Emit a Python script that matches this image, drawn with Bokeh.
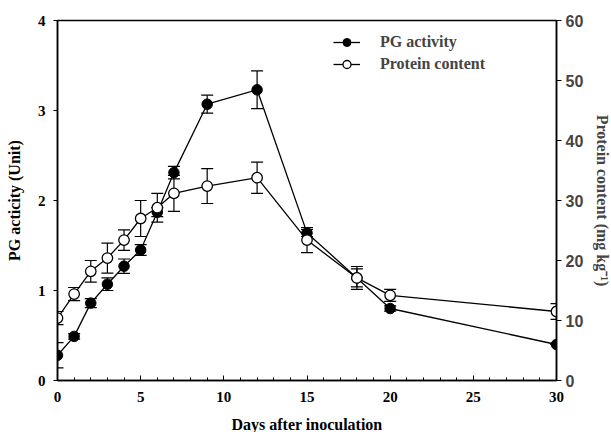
from bokeh.plotting import figure
from bokeh.models import (ColumnDataSource, Range1d, LinearAxis, Whisker, TeeHead,
                          Legend, LegendItem, FixedTicker)
from bokeh.embed import file_html
from bokeh.resources import INLINE

days = [0, 1, 2, 3, 4, 5, 6, 7, 9, 12, 15, 18, 20, 30]
pg_activity = [0.28, 0.49, 0.86, 1.07, 1.27, 1.45, 1.87, 2.31, 3.07, 3.23, 1.64, 1.14, 0.80, 0.40]
pg_err = [0.14, 0.03, 0.05, 0.07, 0.08, 0.06, 0.05, 0.07, 0.10, 0.21, 0.04, 0.10, 0.03, 0.0]
protein = [10.4, 14.4, 18.2, 20.4, 23.4, 27.0, 28.8, 31.2, 32.4, 33.8, 23.4, 17.1, 14.2, 11.5]
protein_err = [1.1, 1.1, 1.8, 2.5, 1.7, 3.0, 2.4, 3.0, 2.9, 2.6, 2.1, 1.9, 1.0, 1.3]

x_ticks = [0, 5, 10, 15, 20, 25, 30]
left_ticks = [0, 1, 2, 3, 4]
right_ticks = [0, 10, 20, 30, 40, 50, 60]

SERIF = "Liberation Serif"
SANS = "Liberation Sans"

p = figure(width=611, height=432, output_backend="svg", toolbar_location=None,
           x_range=Range1d(0, 30), y_range=Range1d(0, 4),
           frame_width=499, frame_height=360,
           min_border_left=57, min_border_right=55, min_border_top=20, min_border_bottom=52)
p.extra_y_ranges = {"prot": Range1d(0, 60)}
p.grid.visible = False
p.outline_line_color = "black"
p.outline_line_width = 1.5
p.background_fill_color = "white"
p.border_fill_color = "white"

src1 = ColumnDataSource(dict(x=days, y=pg_activity,
                             lo=[a - b for a, b in zip(pg_activity, pg_err)],
                             hi=[a + b for a, b in zip(pg_activity, pg_err)]))
src2 = ColumnDataSource(dict(x=days, y=protein,
                             lo=[a - b for a, b in zip(protein, protein_err)],
                             hi=[a + b for a, b in zip(protein, protein_err)]))

w1 = Whisker(source=src1, base="x", lower="lo", upper="hi", line_color="black", line_width=1.2,
             upper_head=TeeHead(size=12, line_color="black", line_width=1.2),
             lower_head=TeeHead(size=12, line_color="black", line_width=1.2))
w2 = Whisker(source=src2, base="x", lower="lo", upper="hi", line_color="black", line_width=1.2,
             y_range_name="prot",
             upper_head=TeeHead(size=12, line_color="black", line_width=1.2),
             lower_head=TeeHead(size=12, line_color="black", line_width=1.2))
p.add_layout(w1)
p.add_layout(w2)

l1 = p.line("x", "y", source=src1, line_color="black", line_width=1.3)
c1 = p.scatter("x", "y", source=src1, size=10.5, marker="circle", fill_color="black", line_color="black")
l2 = p.line("x", "y", source=src2, line_color="black", line_width=1.3, y_range_name="prot")
c2 = p.scatter("x", "y", source=src2, size=10.5, marker="circle", fill_color="white", line_color="black",
               line_width=1.3, y_range_name="prot")

# axes
p.xaxis.ticker = FixedTicker(ticks=x_ticks, minor_ticks=list(range(0, 31)))
p.xaxis.axis_label = "Days after inoculation"
p.yaxis.ticker = FixedTicker(ticks=left_ticks)
p.yaxis.axis_label = "PG acticity (Unit)"

ra = LinearAxis(y_range_name="prot", axis_label="Protein content (mg kg\u207b\u00b9)",
                ticker=FixedTicker(ticks=right_ticks, minor_ticks=list(range(0, 61, 2))))
p.add_layout(ra, "right")

for ax in [p.xaxis[0], p.yaxis[0]]:
    ax.axis_line_width = 1.5
    ax.major_label_text_font = SERIF
    ax.major_label_text_font_style = "bold"
    ax.major_label_text_font_size = "15px"
    ax.major_label_text_color = "black"
    ax.axis_label_text_font = SERIF
    ax.axis_label_text_font_style = "bold"
    ax.axis_label_text_font_size = "16px"
    ax.axis_label_text_color = "black"

p.xaxis.major_tick_in = 5
p.xaxis.major_tick_out = 0
p.xaxis.minor_tick_in = 3
p.xaxis.minor_tick_out = 0
p.xaxis.major_label_standoff = 11
p.xaxis.axis_label_standoff = 11

p.yaxis.major_tick_in = 0
p.yaxis.major_tick_out = 4
p.yaxis.minor_tick_line_color = None
p.yaxis.major_label_standoff = 8
p.yaxis.axis_label_standoff = 12

ra.axis_line_width = 1.5
ra.major_tick_in = 0
ra.major_tick_out = 5
ra.minor_tick_in = 3
ra.minor_tick_out = 0
ra.major_label_text_font = SANS
ra.major_label_text_font_style = "bold"
ra.major_label_text_font_size = "16px"
ra.major_label_standoff = 4
ra.axis_label_text_font = SERIF
ra.axis_label_text_font_style = "bold"
ra.axis_label_text_font_size = "16px"
ra.axis_label_standoff = 8

legend = Legend(items=[LegendItem(label="PG activity", renderers=[l1, c1]),
                       LegendItem(label="Protein content", renderers=[l2, c2])],
                location=(276, 306), background_fill_alpha=0, border_line_color=None,
                label_text_font=SERIF, label_text_font_style="bold", label_text_font_size="16px",
                glyph_width=27, label_standoff=20, spacing=2, padding=0, margin=0)
p.add_layout(legend)

open("out.html", "w").write(file_html(p, INLINE))
